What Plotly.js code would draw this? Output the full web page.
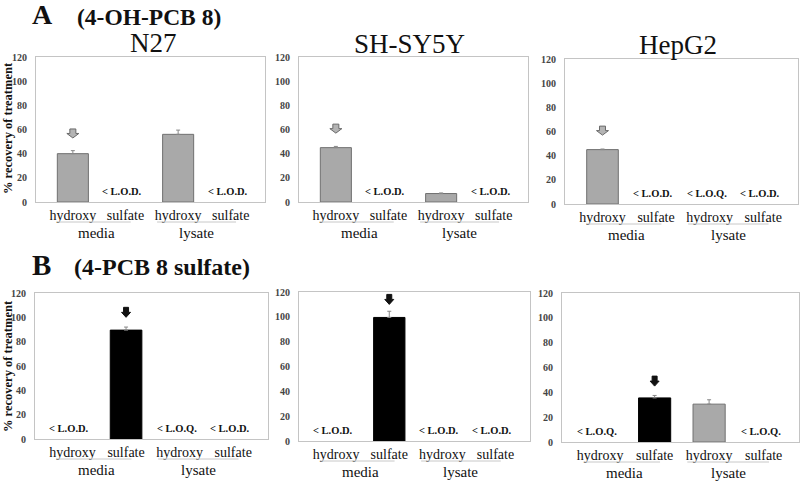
<!DOCTYPE html>
<html>
<head>
<meta charset="utf-8">
<script src="https://cdn.plot.ly/plotly-3.0.1.min.js"></script>
<style>html,body{margin:0;padding:0;background:#fff;}#chart{width:800px;height:484px;}</style>
</head>
<body>
<div id="chart"></div>
<script>
// ---------- data ----------
const catPos = [0, 1, 2, 3];
const catLabels = ['hydroxy', 'sulfate', 'hydroxy', 'sulfate'];
const groupLabels = ['media', 'lysate'];
const cellLines = ['N27', 'SH-SY5Y', 'HepG2'];

// Panel A (4-OH-PCB 8 treatment)
const n27A = [40, null, 56, null];
const n27AErr = [2.5, 0, 3.5, 0];
const shsy5yA = [45, null, 7, null];
const shsy5yAErr = [1, 0, 0.5, 0];
const hepg2A = [45, null, null, null];
const hepg2AErr = [0.5, 0, 0, 0];

// Panel B (4-PCB 8 sulfate treatment)
const n27B = [null, 89.5, null, null];
const n27BErr = [0, 2.5, 0, 0];
const shsy5yB = [null, 99.5, null, null];
const shsy5yBErr = [0, 5, 0, 0];
const hepg2B = [null, 35.5, 30.5, null];
const hepg2BErr = [0, 2, 3.5, 0];

// detection-limit labels per panel
const lodN27A = ['', '< L.O.D.', '', '< L.O.D.'];
const lodShsy5yA = ['', '< L.O.D.', '', '< L.O.D.'];
const lodHepg2A = ['', '< L.O.D.', '< L.O.Q.', '< L.O.D.'];
const lodN27B = ['< L.O.D.', '', '< L.O.Q.', '< L.O.D.'];
const lodShsy5yB = ['< L.O.D.', '', '< L.O.D.', '< L.O.D.'];
const lodHepg2B = ['< L.O.Q.', '', '', '< L.O.Q.'];

// arrow marks (category, tip value)
const arrowCat = [0, 0, 0, 1, 1, 1];
const arrowTip = [53, 57, 57, 100, 110, 45];

const yTicks = [0, 20, 40, 60, 80, 100, 120];

// ---------- styling / layout config ----------
const W = 800, H = 484;
const GRAY = '#a9a9a9', GRAYLINE = '#707070', BLACK = '#000000';
const barColorsA = [GRAY, GRAY, GRAY, GRAY];
const barColorsB = [GRAY, BLACK, GRAY, GRAY];
// [left, right, top, bottom] in px
const boxes = [[36,265,57,202],[299,528,57,202],[565,798,59,204],
               [35,268,293,439],[299,530,292,441],[562,799,293,442]];
const panels = [
  {y: n27A, e: n27AErr, c: barColorsA, lod: lodN27A},
  {y: shsy5yA, e: shsy5yAErr, c: barColorsA, lod: lodShsy5yA},
  {y: hepg2A, e: hepg2AErr, c: barColorsA, lod: lodHepg2A},
  {y: n27B, e: n27BErr, c: barColorsB, lod: lodN27B},
  {y: shsy5yB, e: shsy5yBErr, c: barColorsB, lod: lodShsy5yB},
  {y: hepg2B, e: hepg2BErr, c: barColorsB, lod: lodHepg2B}
];

const serif = 'Liberation Serif, Times New Roman, serif';
const traces = [];
const layout = {
  width: W, height: H,
  margin: {l: 0, r: 0, t: 0, b: 0},
  paper_bgcolor: '#fff', plot_bgcolor: '#fff',
  showlegend: false,
  font: {family: serif, color: '#111'},
  annotations: [], shapes: []
};

function paperText(xpx, ypx, text, font, extra) {
  return Object.assign({xref: 'paper', yref: 'paper', x: xpx / W, y: 1 - ypx / H,
    xanchor: 'center', yanchor: 'middle', text: text, showarrow: false, font: font}, extra || {});
}

panels.forEach((p, i) => {
  const n = i + 1;
  const sx = n === 1 ? '' : String(n);
  const b = boxes[i];
  const xa = 'x' + sx, ya = 'y' + sx;
  traces.push({
    type: 'bar', x: catPos, y: p.y, xaxis: xa, yaxis: ya, width: 0.59,
    marker: {color: p.c, line: {color: p.c.map(c => c === BLACK ? '#000' : GRAYLINE), width: 1}},
    error_y: {type: 'data', symmetric: false, array: p.e, arrayminus: p.e.map(() => 0),
              visible: true, thickness: 1, width: 2, color: '#888'},
    hoverinfo: 'skip'
  });
  layout['xaxis' + sx] = {
    domain: [b[0] / W, b[1] / W], anchor: ya, range: [-0.7, 3.65],
    tickmode: 'array', tickvals: catPos, ticktext: catLabels,
    tickfont: {family: serif, size: 14, color: '#111'},
    ticks: '', showgrid: false, zeroline: false,
    showline: true, mirror: true, linecolor: '#c4c4c4', linewidth: 1,
    ticklabelstandoff: 0, fixedrange: true
  };
  layout['yaxis' + sx] = {
    domain: [1 - b[3] / H, 1 - b[2] / H], anchor: xa, range: [0, 120],
    tickmode: 'array', tickvals: yTicks,
    tickfont: {family: serif, size: 10, color: '#444', weight: 'bold'},
    ticks: '', showgrid: false, zeroline: false,
    showline: true, mirror: true, linecolor: '#c4c4c4', linewidth: 1,
    ticklabelstandoff: 6, fixedrange: true
  };
  // detection-limit labels
  p.lod.forEach((t, k) => {
    if (!t) return;
    layout.annotations.push({
      xref: xa, yref: ya, x: catPos[k], y: 0, xanchor: 'center', yanchor: 'bottom', yshift: 3, xshift: -3,
      text: '<b>' + t + '</b>', showarrow: false,
      font: {family: serif, size: 10.5, color: '#111'}
    });
  });
  // group underline + labels
  const lineY = 1 - (b[3] + 20) / H;
  const labY = 1 - (b[3] + 31) / H;
  [[-0.3, 1.1], [1.6, 3.1]].forEach((r, g) => {
    layout.shapes.push({type: 'line', xref: xa, yref: 'paper', x0: r[0], x1: r[1], y0: lineY, y1: lineY,
      line: {color: '#c8c8c8', width: 1}});
    layout.annotations.push({xref: xa, yref: 'paper', x: g === 0 ? 0.45 : 2.35, y: labY,
      xanchor: 'center', yanchor: 'middle',
      text: groupLabels[g], showarrow: false, font: {family: serif, size: 15, color: '#111'}});
  });
  // arrow
  const isB = i >= 3;
  const path = isB
    ? 'M-2.5,10 L2.5,10 L2.5,5 L4.5,5 L0,0 L-4.5,5 L-2.5,5 Z'
    : 'M-3,9 L3,9 L3,4.5 L6,4.5 L0,0 L-6,4.5 L-3,4.5 Z';
  layout.shapes.push({
    type: 'path', xref: xa, yref: ya, xsizemode: 'pixel', ysizemode: 'pixel',
    xanchor: catPos[arrowCat[i]], yanchor: arrowTip[i], path: path,
    fillcolor: isB ? '#111' : '#b4b4b4', line: {color: isB ? '#111' : '#6a6a6a', width: 1}
  });
});

// cell-line titles
[[153, 43], [410, 44], [678, 45]].forEach((pt, k) => {
  layout.annotations.push(paperText(pt[0], pt[1], cellLines[k], {family: serif, size: 27, color: '#111'}));
});
// panel letters and treatment titles
layout.annotations.push(paperText(42, 15, '<b>A</b>', {family: serif, size: 28, color: '#111'}));
layout.annotations.push(paperText(75, 17, '<b>(4-OH-PCB 8)</b>', {family: serif, size: 23.5, color: '#111'}, {xanchor: 'left'}));
layout.annotations.push(paperText(41, 265, '<b>B</b>', {family: serif, size: 29, color: '#111'}));
layout.annotations.push(paperText(72, 267, '<b>(4-PCB 8 sulfate)</b>', {family: serif, size: 24, color: '#111'}, {xanchor: 'left'}));
// y-axis titles
[128, 366].forEach(yc => {
  layout.annotations.push(paperText(8, yc, '<b>% recovery of treatment</b>',
    {family: serif, size: 12.5, color: '#111'}, {textangle: -90}));
});

Plotly.newPlot('chart', traces, layout, {staticPlot: true, displayModeBar: false});
</script>
</body>
</html>
